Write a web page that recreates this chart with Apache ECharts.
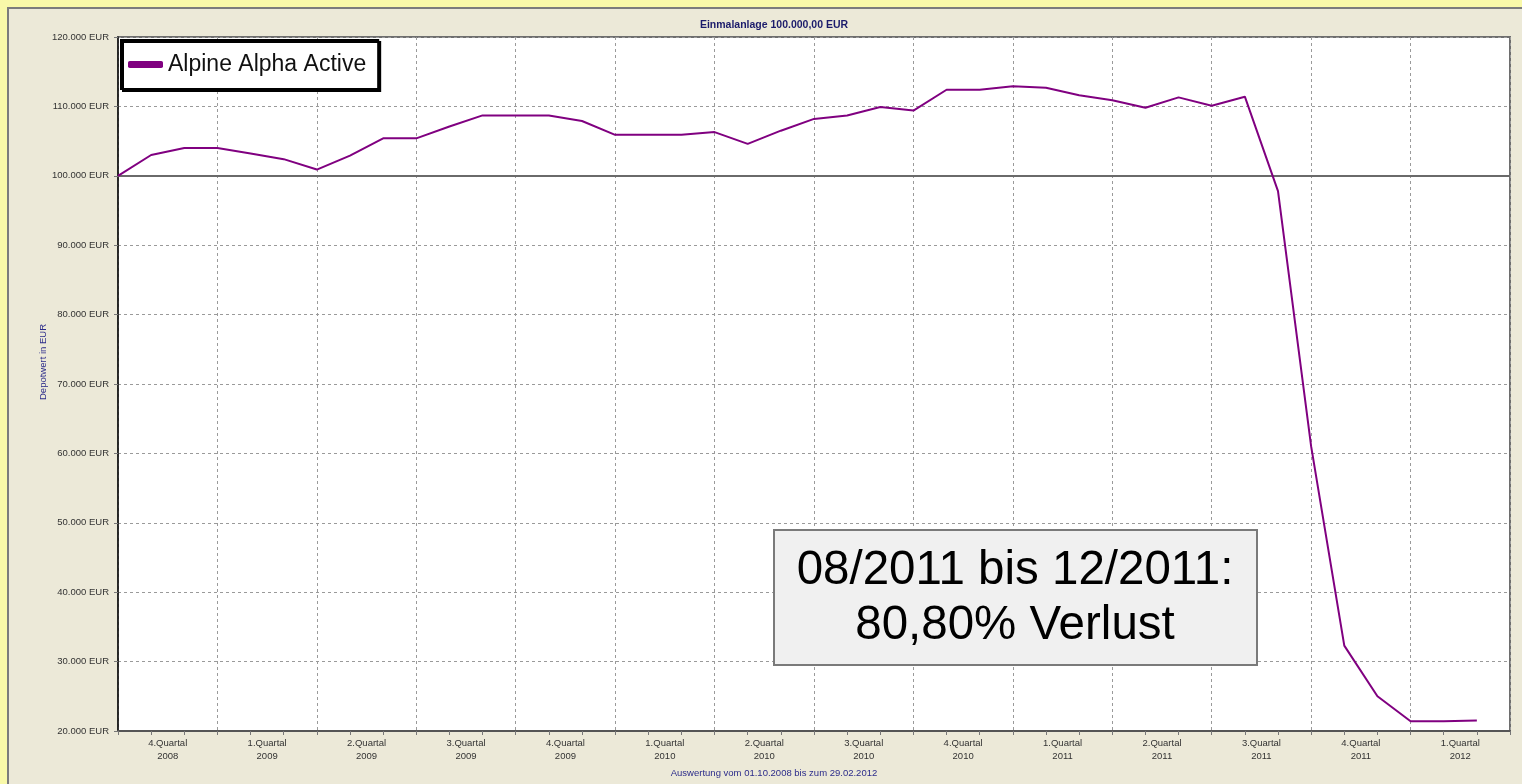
<!DOCTYPE html>
<html>
<head>
<meta charset="utf-8">
<title>Alpine Alpha Active</title>
<script src="https://cdn.jsdelivr.net/npm/echarts@6/dist/echarts.min.js"></script>
<style>
    html, body { margin: 0; padding: 0; background: #ece9d8; }
    #chart { width: 1522px; height: 784px; }
</style>
</head>
<body>
<div id="chart"></div>
<script>
// quarter labels under the x axis
var quarterLabels = [
    '4.Quartal\n2008', '1.Quartal\n2009', '2.Quartal\n2009', '3.Quartal\n2009',
    '4.Quartal\n2009', '1.Quartal\n2010', '2.Quartal\n2010', '3.Quartal\n2010',
    '4.Quartal\n2010', '1.Quartal\n2011', '2.Quartal\n2011', '3.Quartal\n2011',
    '4.Quartal\n2011', '1.Quartal\n2012'
];

// monthly depot value, 01.10.2008 .. 29.02.2012
var depotValues = [
    100000, 103000, 104000, 104000, 103200, 102400, 100900, 102900, 105400, 105400,
    107100, 108700, 108700, 108700, 107900, 105900, 105900, 105900, 106300, 104600,
    106500, 108200, 108700, 109900, 109400, 112400, 112400, 112900, 112700, 111600,
    110900, 109800, 111300, 110100, 111400, 97800, 61000, 32300, 25000, 21400,
    21400, 21500
];

var seriesName = 'Alpine Alpha Active';
var startValue = 100000;

function MyChart(domId) {
    var option;
    var font = "'Liberation Sans', Arial, sans-serif";

    function euro(v) {
        return String(v).replace(/\B(?=(\d{3})+(?!\d))/g, '.') + ' EUR';
    }

    function initOption() {
        var points = [];
        for (var i = 0; i < depotValues.length; i++) {
            points.push([i, depotValues[i]]);
        }

        option = {
            backgroundColor: '#ece9d8',
            animation: false,
            textStyle: { fontFamily: font },
            legend: {
                data: [seriesName],
                left: 121,
                top: 40,
                orient: 'horizontal',
                icon: 'roundRect',
                itemWidth: 35,
                itemHeight: 7,
                padding: [13, 12, 13, 7],
                backgroundColor: '#fff',
                borderColor: '#000',
                borderWidth: 2,
                shadowColor: '#000',
                shadowOffsetX: 2,
                shadowOffsetY: 2,
                shadowBlur: 0,
                textStyle: { fontSize: 23, color: '#111', fontFamily: font }
            },
            grid: {
                left: 118,
                top: 37,
                width: 1392,
                height: 694,
                show: true,
                backgroundColor: '#fff',
                borderColor: '#6e6e6e',
                borderWidth: 2
            },
            xAxis: [
                {
                    type: 'value',
                    min: 0,
                    max: 42,
                    interval: 1,
                    position: 'bottom',
                    axisLine: { show: true, lineStyle: { color: '#555', width: 2 } },
                    axisTick: { show: true, length: 4, lineStyle: { color: '#777' } },
                    axisLabel: { show: false },
                    splitLine: { show: false }
                },
                {
                    type: 'category',
                    data: quarterLabels,
                    boundaryGap: true,
                    position: 'bottom',
                    axisLine: { show: false },
                    axisTick: { show: false },
                    axisLabel: {
                        interval: 0,
                        margin: 6,
                        fontSize: 9.5,
                        lineHeight: 13,
                        color: '#333',
                        fontFamily: font
                    },
                    splitLine: {
                        show: true,
                        interval: 0,
                        lineStyle: { color: '#9a9a9a', type: [3, 3], width: 1 }
                    }
                }
            ],
            yAxis: {
                type: 'value',
                min: 20000,
                max: 120000,
                interval: 10000,
                axisLine: { show: true, lineStyle: { color: '#111', width: 1.5 } },
                axisTick: { show: true, length: 4, lineStyle: { color: '#777' } },
                axisLabel: {
                    margin: 9,
                    fontSize: 9.5,
                    color: '#333',
                    fontFamily: font,
                    formatter: euro
                },
                splitLine: {
                    show: true,
                    lineStyle: { color: '#9a9a9a', type: [3, 3], width: 1 }
                }
            },
            series: [
                {
                    name: seriesName,
                    type: 'line',
                    xAxisIndex: 0,
                    data: points,
                    symbol: 'none',
                    lineStyle: { color: '#800080', width: 2 },
                    itemStyle: { color: '#800080' },
                    z: 5,
                    markLine: {
                        silent: true,
                        symbol: 'none',
                        label: { show: false },
                        lineStyle: { type: 'solid', color: '#6a6a6a', width: 2 },
                        data: [{ yAxis: startValue }]
                    }
                }
            ],
            graphic: [
                // yellow frame round the panel
                { type: 'rect', shape: { x: 0, y: 0, width: 1522, height: 7 }, style: { fill: '#f9f9a9' }, silent: true },
                { type: 'rect', shape: { x: 0, y: 0, width: 7, height: 784 }, style: { fill: '#f9f9a9' }, silent: true },
                { type: 'rect', shape: { x: 7, y: 7, width: 1515, height: 2 }, style: { fill: '#7c7c7c' }, silent: true },
                { type: 'rect', shape: { x: 7, y: 7, width: 2, height: 777 }, style: { fill: '#7c7c7c' }, silent: true },
                {
                    type: 'text', x: 774, y: 25, silent: true,
                    style: {
                        text: 'Einmalanlage 100.000,00 EUR', align: 'center', verticalAlign: 'middle',
                        fill: '#1b1b6b', fontSize: 10.5, fontWeight: 'bold', fontFamily: font
                    }
                },
                {
                    type: 'text', x: 774, y: 773, silent: true,
                    style: {
                        text: 'Auswertung vom 01.10.2008 bis zum 29.02.2012', align: 'center', verticalAlign: 'middle',
                        fill: '#2b2b8a', fontSize: 9.5, fontFamily: font
                    }
                },
                {
                    type: 'text', x: 43, y: 362, rotation: Math.PI / 2, silent: true,
                    style: {
                        text: 'Depotwert in EUR', align: 'center', verticalAlign: 'middle',
                        fill: '#2b2b8a', fontSize: 9.5, fontFamily: font
                    }
                },
                // loss annotation
                {
                    type: 'rect', z: 100, silent: true,
                    shape: { x: 774, y: 530, width: 483, height: 135 },
                    style: { fill: '#f0f0f0', stroke: '#7a7a7a', lineWidth: 2 }
                },
                {
                    type: 'text', z: 101, x: 1015, y: 598, silent: true,
                    style: {
                        text: '08/2011 bis 12/2011:\n80,80% Verlust', align: 'center', verticalAlign: 'middle',
                        fill: '#000', fontSize: 47.5, lineHeight: 55, fontFamily: font
                    }
                }
            ]
        };
    }

    this.initChart = function () {
        var chart = echarts.init(document.getElementById(domId));
        initOption();
        chart.setOption(option);
    };
}

var myChart = new MyChart('chart');
myChart.initChart();
</script>
</body>
</html>
